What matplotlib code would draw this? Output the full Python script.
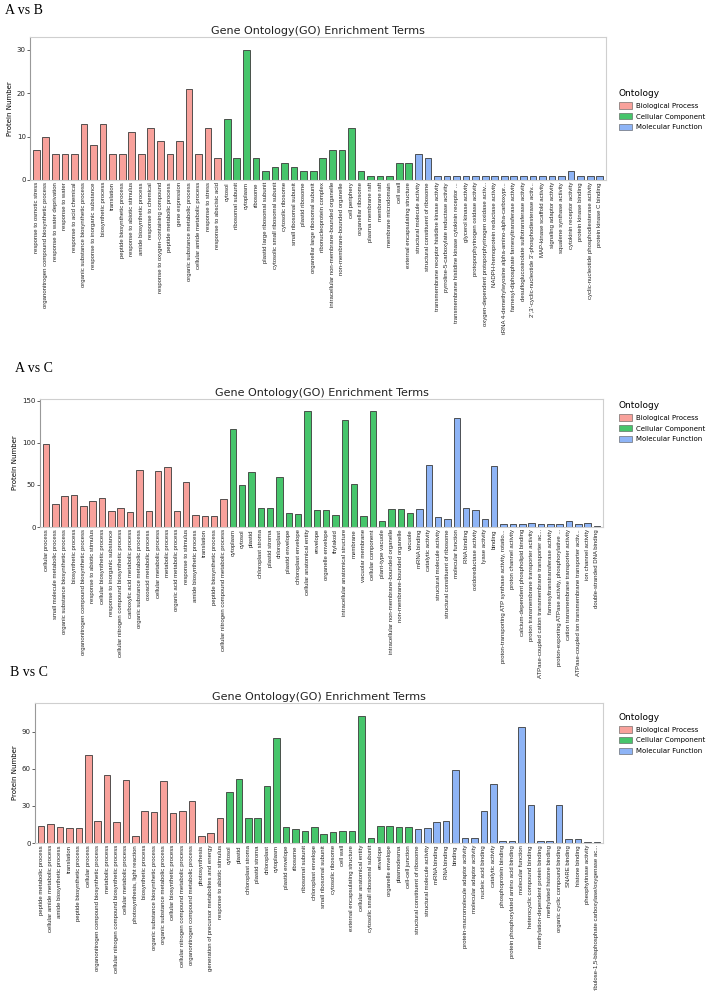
import matplotlib
matplotlib.use('Agg')
import matplotlib.pyplot as plt
from matplotlib.patches import Patch

W, H = 717, 991

onto_names = ['Biological Process', 'Cellular Component', 'Molecular Function']
onto_colors = ['#F8A19B', '#46C56B', '#8EB4F6']

# ---- A vs B ----
ab_terms = [
    'response to osmotic stress', 'organonitrogen compound biosynthetic process',
    'response to water deprivation', 'response to water', 'response to acid chemical',
    'organic substance biosynthetic process', 'response to inorganic substance',
    'biosynthetic process', 'translation', 'peptide biosynthetic process',
    'response to abiotic stimulus', 'amide biosynthetic process', 'response to chemical',
    'response to oxygen-containing compound', 'peptide metabolic process', 'gene expression',
    'organic substance metabolic process', 'cellular amide metabolic process',
    'response to stress', 'response to abscisic acid',
    'cytosol', 'ribosomal subunit', 'cytoplasm', 'ribosome', 'plastid large ribosomal subunit',
    'cytosolic small ribosomal subunit', 'cytosolic ribosome', 'small ribosomal subunit',
    'plastid ribosome', 'organellar large ribosomal subunit', 'ribonucleoprotein complex',
    'intracellular non-membrane-bounded organelle', 'non-membrane-bounded organelle',
    'cell periphery', 'organellar ribosome', 'plasma membrane raft', 'membrane raft',
    'membrane microdomain', 'cell wall', 'external encapsulating structure',
    'structural molecule activity', 'structural constituent of ribosome',
    'transmembrane receptor histidine kinase activity', 'pyrroline-5-carboxylate reductase activity',
    'transmembrane histidine kinase cytokinin receptor ...', 'glycerol kinase activity',
    'protoporphyrinogen oxidase activity', 'oxygen-dependent protoporphyrinogen oxidase activ...',
    'NADPH-hemoprotein reductase activity', 'tRNA 4-demethylwyosine alpha-amino-alpha-carboxypr...',
    'farnesyl-diphosphate farnesyltransferase activity', 'desulfoglucosinolate sulfotransferase activity',
    "2',3'-cyclic-nucleotide 3'-phosphodiesterase activ...", 'MAP-kinase scaffold activity',
    'signaling adaptor activity', 'squalene synthase activity', 'cytokinin receptor activity',
    'protein kinase binding', 'cyclic-nucleotide phosphodiesterase activity', 'protein kinase C binding']
ab_counts = [7, 10, 6, 6, 6, 13, 8, 13, 6, 6, 11, 6, 12, 9, 6, 9, 21, 6, 12, 5,
             14, 5, 30, 5, 2, 3, 4, 3, 2, 2, 5, 7, 7, 12, 2, 1, 1, 1, 4, 4,
             6, 5, 1, 1, 1, 1, 1, 1, 1, 1, 1, 1, 1, 1, 1, 1, 2, 1, 1, 1]
ab_onto = [0] * 20 + [1] * 20 + [2] * 20

# ---- A vs C ----
ac_terms = [
    'cellular process', 'small molecule metabolic process', 'organic substance biosynthetic process',
    'biosynthetic process', 'organonitrogen compound biosynthetic process', 'response to abiotic stimulus',
    'cellular biosynthetic process', 'response to inorganic substance',
    'cellular nitrogen compound biosynthetic process', 'carboxylic acid metabolic process',
    'organic substance metabolic process', 'oxoacid metabolic process', 'cellular metabolic process',
    'metabolic process', 'organic acid metabolic process', 'response to stimulus',
    'amide biosynthetic process', 'translation', 'peptide biosynthetic process',
    'cellular nitrogen compound metabolic process',
    'cytoplasm', 'cytosol', 'plastid', 'chloroplast stroma', 'plastid stroma', 'chloroplast',
    'plastid envelope', 'chloroplast envelope', 'cellular anatomical entity', 'envelope',
    'organelle envelope', 'thylakoid', 'intracellular anatomical structure', 'membrane',
    'vacuolar membrane', 'cellular component', 'plant-type vacuole',
    'intracellular non-membrane-bounded organelle', 'non-membrane-bounded organelle', 'vacuole',
    'mRNA binding', 'catalytic activity', 'structural molecule activity',
    'structural constituent of ribosome', 'molecular function', 'RNA binding',
    'oxidoreductase activity', 'lyase activity', 'binding',
    'proton-transporting ATP synthase activity, rotatio...', 'proton channel activity',
    'calcium-dependent phospholipid binding', 'proton transmembrane transporter activity',
    'ATPase-coupled cation transmembrane transporter ac...', 'farnesyltranstransferase activity',
    'proton-exporting ATPase activity, phosphorylative ...', 'cation transmembrane transporter activity',
    'ATPase-coupled ion transmembrane transporter activ...', 'ion channel activity',
    'double-stranded DNA binding']
ac_counts = [98, 27, 37, 38, 25, 31, 34, 19, 22, 18, 68, 19, 67, 71, 19, 53, 14, 13, 13, 33,
             116, 50, 65, 23, 23, 59, 17, 16, 138, 20, 20, 14, 127, 51, 13, 138, 7, 21, 21, 17,
             21, 73, 12, 10, 129, 22, 20, 10, 72, 4, 4, 3, 5, 4, 3, 3, 7, 4, 5, 1]
ac_onto = [0] * 20 + [1] * 20 + [2] * 20

# ---- B vs C ----
bc_terms = [
    'peptide metabolic process', 'cellular amide metabolic process', 'amide biosynthetic process',
    'translation', 'peptide biosynthetic process', 'cellular process',
    'organonitrogen compound biosynthetic process', 'metabolic process',
    'cellular nitrogen compound biosynthetic process', 'cellular metabolic process',
    'photosynthesis, light reaction', 'biosynthetic process', 'organic substance biosynthetic process',
    'organic substance metabolic process', 'cellular biosynthetic process',
    'cellular nitrogen compound metabolic process', 'organonitrogen compound metabolic process',
    'photosynthesis', 'generation of precursor metabolites and energy', 'response to abiotic stimulus',
    'cytosol', 'plastid', 'chloroplast stroma', 'plastid stroma', 'chloroplast', 'cytoplasm',
    'plastid envelope', 'ribosome', 'ribosomal subunit', 'chloroplast envelope',
    'small ribosomal subunit', 'cytosolic ribosome', 'cell wall', 'external encapsulating structure',
    'cellular anatomical entity', 'cytosolic small ribosomal subunit', 'envelope',
    'organelle envelope', 'plasmodesma', 'cell-cell junction',
    'structural constituent of ribosome', 'structural molecule activity', 'mRNA binding',
    'RNA binding', 'binding', 'protein-macromolecule adaptor activity', 'molecular adaptor activity',
    'nucleic acid binding', 'catalytic activity', 'phosphoprotein binding',
    'protein phosphorylated amino acid binding', 'molecular function',
    'heterocyclic compound binding', 'methylation-dependent protein binding',
    'methylated histone binding', 'organic cyclic compound binding', 'SNARE binding',
    'histone binding', 'pheophytinase activity',
    'ribulose-1,5-bisphosphate carboxylase/oxygenase ac...']
bc_counts = [14, 15, 13, 12, 12, 71, 18, 55, 17, 51, 6, 26, 25, 50, 24, 26, 34, 6, 8, 20,
             41, 52, 20, 20, 46, 85, 13, 11, 10, 13, 7, 9, 10, 10, 103, 4, 14, 14, 13, 13,
             11, 12, 17, 18, 59, 4, 4, 26, 48, 2, 2, 94, 31, 2, 2, 31, 3, 3, 1, 1]
bc_onto = [0] * 20 + [1] * 20 + [2] * 20

panels = [
    # name, terms, counts, ontology, yticks, axes box px (left, top, right, bottom), name y, legend top y
    ('A vs B', ab_terms, ab_counts, ab_onto, [0, 10, 20, 30], (30, 37, 606, 180), 10, 86),
    ('A vs C', ac_terms, ac_counts, ac_onto, [0, 50, 100, 150], (40, 399, 603, 527), 368, 398),
    ('B vs C', bc_terms, bc_counts, bc_onto, [0, 30, 60, 90], (35, 703, 603, 843), 673, 710),
]

fig = plt.figure(figsize=(W / 100, H / 100), dpi=100)

for name, terms, counts, onto, yticks, box, name_y, leg_y in panels:
    l, t, r, b = box
    ax = fig.add_axes([l / W, 1 - b / H, (r - l) / W, (b - t) / H])
    x = list(range(len(terms)))
    ax.bar(x, counts, width=0.7, color=[onto_colors[o] for o in onto],
           edgecolor='#3a3a3a', linewidth=0.6)
    ax.set_xlim(-0.65, len(terms) - 0.35)
    ax.set_ylim(0, max(counts) * 1.1)
    ax.set_yticks(yticks)
    ax.set_xticks(x)
    ax.set_xticklabels(terms, rotation=90, fontsize=4.3, family='Liberation Sans', color='#222222')
    ax.tick_params(axis='x', length=0, pad=1.5)
    ax.tick_params(axis='y', length=2, width=0.5, labelsize=5, pad=1, colors='#222222')
    for s in ax.spines.values():
        s.set_color('#cfcfcf')
        s.set_linewidth(0.8)
    ax.spines['left'].set_color('#999999')
    ax.set_ylabel('Protein Number', fontsize=5, labelpad=3)
    ax.set_title('Gene Ontology(GO) Enrichment Terms', fontsize=8, pad=2, color='#222222')

    fig.text(l / W - 0.035, 1 - name_y / H, name, family='Liberation Serif', fontsize=10,
             va='center', ha='left')

    handles = [Patch(facecolor=c, edgecolor='#555555', linewidth=0.4) for c in onto_colors]
    fig.legend(handles, onto_names, title='Ontology', loc='upper left',
               bbox_to_anchor=(616 / W, 1 - leg_y / H), frameon=False, fontsize=5.0,
               title_fontsize=6.5, handlelength=1.9, handleheight=1.1, labelspacing=0.6,
               handletextpad=0.6, borderaxespad=0, alignment='left')

fig.savefig('out.png', dpi=100)
